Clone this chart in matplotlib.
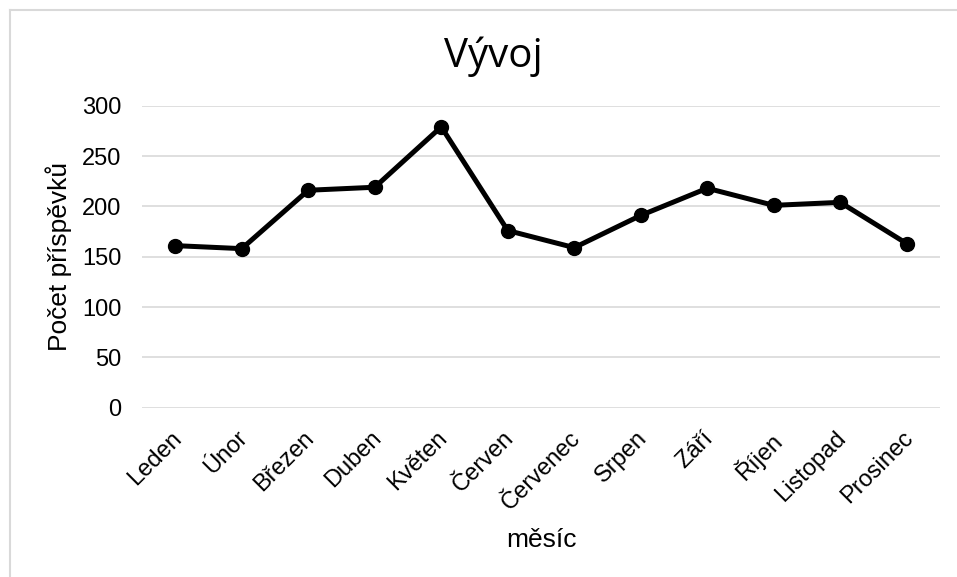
import matplotlib
matplotlib.use('Agg')
import matplotlib.pyplot as plt
import matplotlib.transforms as mtransforms
from matplotlib.lines import Line2D

months = ['Leden', 'Únor', 'Březen', 'Duben', 'Květen', 'Červen',
          'Červenec', 'Srpen', 'Září', 'Říjen', 'Listopad', 'Prosinec']
counts = [161, 158, 216, 219, 279, 176, 159, 191, 218, 201, 204, 163]
yTicks = [0, 50, 100, 150, 200, 250, 300]

plt.rcParams['font.family'] = ['Liberation Sans', 'DejaVu Sans']

fig = plt.figure(figsize=(9.57, 5.77), dpi=100)
ax = fig.add_axes([142/957, 1 - 407.7/577, (940-142)/957, (407.7-105.7)/577])

ax.plot(range(len(months)), counts, color='black', linewidth=3.6,
        marker='o', markersize=10, solid_joinstyle='round')

ax.set_xlim(-0.5, len(months) - 0.5)
ax.set_ylim(0, 300)
ax.set_yticks(yTicks)
ax.set_xticks(range(len(months)))
ax.set_xticklabels(months, rotation=45, ha='right', rotation_mode='anchor')
ax.tick_params(axis='both', length=0, labelsize=17, colors='#000000')
ax.tick_params(axis='x', pad=14)
ax.tick_params(axis='y', pad=15)

# nudge the rotated month labels a little to the left
shift = mtransforms.ScaledTranslation(-5/100, 0, fig.dpi_scale_trans)
for lbl in ax.get_xticklabels():
    lbl.set_transform(lbl.get_transform() + shift)

ax.grid(axis='y', color='#d9d9d9', linewidth=1.2)
ax.set_axisbelow(True)
for s in ax.spines.values():
    s.set_visible(False)

ax.set_ylabel('Počet příspěvků', fontsize=19, labelpad=7)
ax.set_xlabel('měsíc', fontsize=19, labelpad=10)
fig.text(493/957, 1 - 57/577, 'Vývoj', fontsize=29, family=['Open Sans', 'DejaVu Sans'],
         ha='center', va='center')

# outer chart border (left and top)
fig.add_artist(Line2D([9.5/957, 9.5/957], [0, 1 - 10/577], color='#d9d9d9', linewidth=1.5))
fig.add_artist(Line2D([9.5/957, 1], [1 - 10/577, 1 - 10/577], color='#d9d9d9', linewidth=1.5))

fig.savefig('out.png', dpi=100)
